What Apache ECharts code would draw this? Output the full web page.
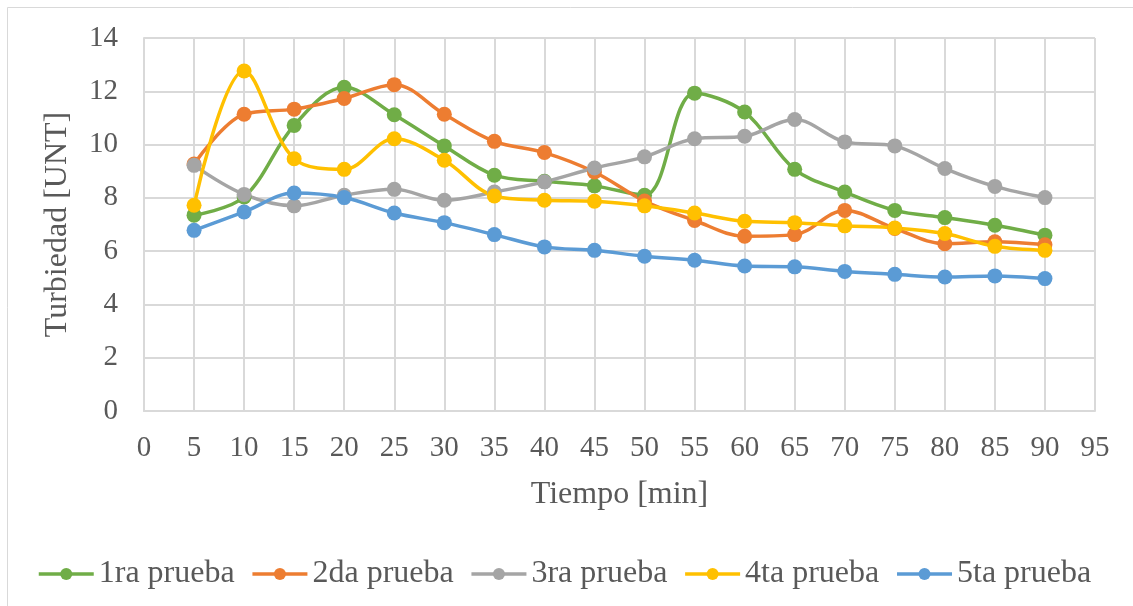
<!DOCTYPE html>
<html>
<head>
<meta charset="utf-8">
<script src="https://cdn.jsdelivr.net/npm/echarts@6/dist/echarts.min.js"></script>
<style>
  html, body { margin: 0; padding: 0; background: #fff; }
  #chart { width: 1133px; height: 606px; }
</style>
</head>
<body>
<div id="chart"></div>
<script>
// Tiempo de muestreo [min]
const tiempos = [5, 10, 15, 20, 25, 30, 35, 40, 45, 50, 55, 60, 65, 70, 75, 80, 85, 90];

// Turbiedad [UNT] por prueba
const prueba1 = [7.35, 8.03, 10.72, 12.15, 11.12, 9.95, 8.85, 8.62, 8.45, 8.1, 11.93, 11.22, 9.07, 8.22, 7.53, 7.26, 6.97, 6.6];
const prueba2 = [9.27, 11.14, 11.33, 11.73, 12.25, 11.14, 10.12, 9.7, 8.97, 7.88, 7.15, 6.56, 6.62, 7.53, 6.85, 6.28, 6.35, 6.24];
const prueba3 = [9.22, 8.13, 7.7, 8.1, 8.32, 7.91, 8.22, 8.6, 9.12, 9.54, 10.22, 10.31, 10.94, 10.1, 9.95, 9.1, 8.43, 8.01];
const prueba4 = [7.72, 12.76, 9.47, 9.07, 10.22, 9.41, 8.07, 7.91, 7.87, 7.7, 7.43, 7.12, 7.07, 6.95, 6.87, 6.66, 6.18, 6.03];
const prueba5 = [6.78, 7.47, 8.18, 8.01, 7.43, 7.07, 6.62, 6.16, 6.03, 5.81, 5.66, 5.44, 5.41, 5.24, 5.13, 5.03, 5.07, 4.97];

const nombres = ['1ra prueba', '2da prueba', '3ra prueba', '4ta prueba', '5ta prueba'];
const valores = [prueba1, prueba2, prueba3, prueba4, prueba5];
const colores = ['#70ad47', '#ed7d31', '#a5a5a5', '#ffc000', '#5b9bd5'];

const fuente = '"Liberation Serif", "Times New Roman", serif';
const gris = '#595959';
const rejilla = '#d9d9d9';

const chart = echarts.init(document.getElementById('chart'));

chart.setOption({
  backgroundColor: '#fff',
  animation: false,
  textStyle: { fontFamily: fuente, color: gris },
  graphic: [{
    type: 'rect',
    shape: { x: 7.5, y: 7.5, width: 1140, height: 620 },
    style: { fill: 'none', stroke: rejilla, lineWidth: 1 },
    silent: true
  }],
  grid: { left: 144, right: 38, top: 38, bottom: 195, containLabel: false },
  xAxis: {
    type: 'value',
    min: 0, max: 95, interval: 5,
    name: 'Tiempo [min]',
    nameLocation: 'middle',
    nameGap: 68,
    nameTextStyle: { fontFamily: fuente, fontSize: 32, color: gris },
    axisLine: { show: true, lineStyle: { color: rejilla, width: 2 } },
    axisTick: { show: false },
    axisLabel: { fontFamily: fuente, fontSize: 29, color: gris, margin: 23 },
    splitLine: { show: true, lineStyle: { color: rejilla, width: 2 } }
  },
  yAxis: {
    type: 'value',
    min: 0, max: 14, interval: 2,
    name: 'Turbiedad [UNT]',
    nameLocation: 'middle',
    nameGap: 70,
    nameTextStyle: { fontFamily: fuente, fontSize: 32, color: gris },
    axisLine: { show: true, lineStyle: { color: rejilla, width: 2 } },
    axisTick: { show: false },
    axisLabel: { fontFamily: fuente, fontSize: 29, color: gris, margin: 26 },
    splitLine: { show: true, lineStyle: { color: rejilla, width: 2 } }
  },
  legend: {
    top: 553,
    left: 32,
    itemWidth: 55,
    itemHeight: 15,
    itemGap: 16,
    lineStyle: { width: 3.5 },
    textStyle: { fontFamily: fuente, fontSize: 32, color: gris },
    data: nombres
  },
  series: nombres.map((nombre, i) => ({
    name: nombre,
    type: 'line',
    smooth: 0.35,
    symbol: 'circle',
    symbolSize: 15,
    lineStyle: { color: colores[i], width: 3.5 },
    itemStyle: { color: colores[i] },
    data: tiempos.map((t, k) => [t, valores[i][k]])
  }))
});
</script>
</body>
</html>
